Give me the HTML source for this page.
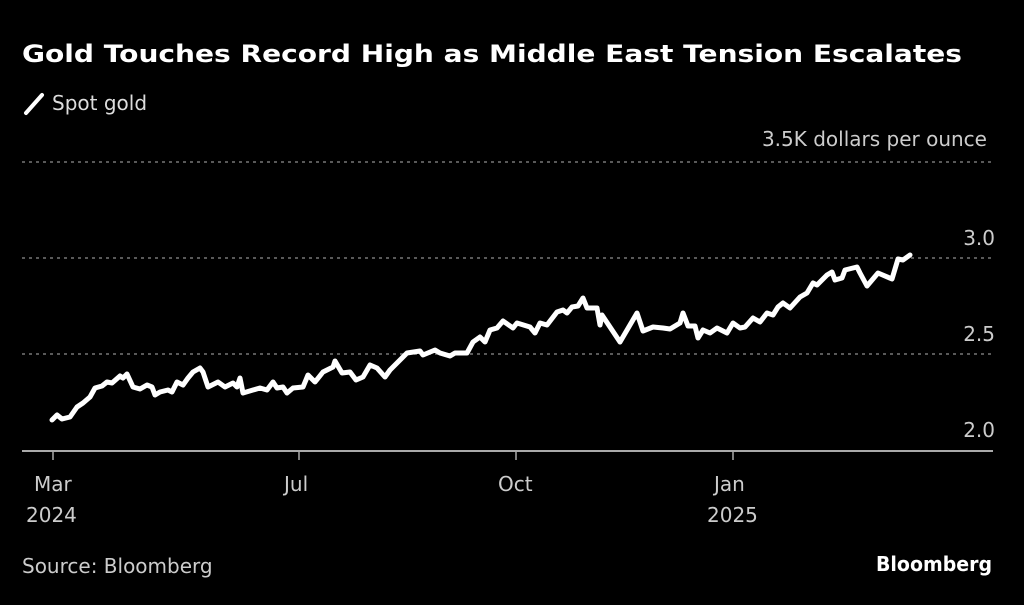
<!DOCTYPE html>
<html><head><meta charset="utf-8"><style>
html,body{margin:0;padding:0;background:#000;}
body{width:1024px;height:600px;overflow:hidden;font-family:"Liberation Sans","DejaVu Sans",sans-serif;}
</style></head><body>
<svg width="1024" height="600" viewBox="0 0 1024 600" xmlns="http://www.w3.org/2000/svg">
<rect width="1024" height="600" fill="#000"/>
<text x="22" y="62" fill="#fff" font-size="24" font-weight="bold" font-family="DejaVu Sans, sans-serif" textLength="940" lengthAdjust="spacingAndGlyphs">Gold Touches Record High as Middle East Tension Escalates</text>
<line x1="26" y1="113" x2="42" y2="95" stroke="#fff" stroke-width="4" stroke-linecap="round"/>
<text x="52" y="110" fill="#ddd" font-size="20" font-family="DejaVu Sans, sans-serif">Spot gold</text>
<text x="987" y="146" fill="#ccc" font-size="20" text-anchor="end" font-family="DejaVu Sans, sans-serif">3.5K dollars per ounce</text>
<g stroke="#777" stroke-width="1.5" stroke-dasharray="3,4">
<line x1="22" y1="162" x2="993" y2="162"/>
<line x1="22" y1="258" x2="993" y2="258"/>
<line x1="22" y1="354" x2="993" y2="354"/>
</g>
<line x1="22" y1="451" x2="993" y2="451" stroke="#aaa" stroke-width="2"/>
<g stroke="#aaa" stroke-width="1.5">
<line x1="53" y1="451" x2="53" y2="460"/><line x1="299" y1="451" x2="299" y2="460"/>
<line x1="516" y1="451" x2="516" y2="460"/><line x1="733" y1="451" x2="733" y2="460"/>
</g>
<g fill="#ccc" font-size="20" font-family="DejaVu Sans, sans-serif" text-anchor="end">
<text x="995" y="245">3.0</text><text x="995" y="341">2.5</text><text x="995" y="437">2.0</text>
</g>
<g fill="#ccc" font-size="20" font-family="DejaVu Sans, sans-serif">
<text x="34" y="491">Mar</text><text x="26" y="522">2024</text>
<text x="284" y="491">Jul</text><text x="498" y="491">Oct</text>
<text x="714" y="491">Jan</text><text x="707" y="522">2025</text>
<text x="22" y="573">Source: Bloomberg</text>
</g>
<text x="992" y="571" fill="#fff" font-size="20" font-weight="bold" text-anchor="end" font-family="DejaVu Sans, sans-serif" textLength="116" lengthAdjust="spacingAndGlyphs">Bloomberg</text>
<polyline fill="none" stroke="#fff" stroke-width="5" stroke-linejoin="round" stroke-linecap="round" points="52,420 57,415 62,419 70,417 77,407 83,403 90,397 95,388 102,386 107,382 112,383 120,376 123,378 127,374 133,387 140,389 147,385 152,387 155,395 160,392 168,390 172,392 177,382 183,385 188,378 193,372 200,368 203,372 208,387 218,382 225,387 233,383 237,387 240,378 243,393 253,390 260,388 267,390 273,382 277,388 283,387 287,393 293,388 303,387 308,375 315,382 323,372 333,367 335,361 342,373 350,372 356,380 363,377 370,365 377,368 385,377 390,370 400,360 407,353 420,351 423,355 435,350 440,353 450,356 455,353 467,353 473,342 480,337 485,342 490,330 497,328 503,321 513,328 517,323 530,327 535,333 540,323 547,325 557,312 563,310 567,313 572,307 578,306 583,298 587,308 597,308 600,325 602,315 620,342 637,313 643,331 653,327 663,328 670,329 680,323 683,313 688,326 695,326 698,338 703,330 710,333 717,328 727,333 733,323 740,328 745,327 753,318 760,322 767,313 773,315 778,307 783,303 790,308 800,297 807,293 813,283 817,285 827,275 832,272 835,280 842,278 845,270 857,267 860,273 867,286 878,273 892,279 898,259 903,260 910,255"/>
</svg>
</body></html>
